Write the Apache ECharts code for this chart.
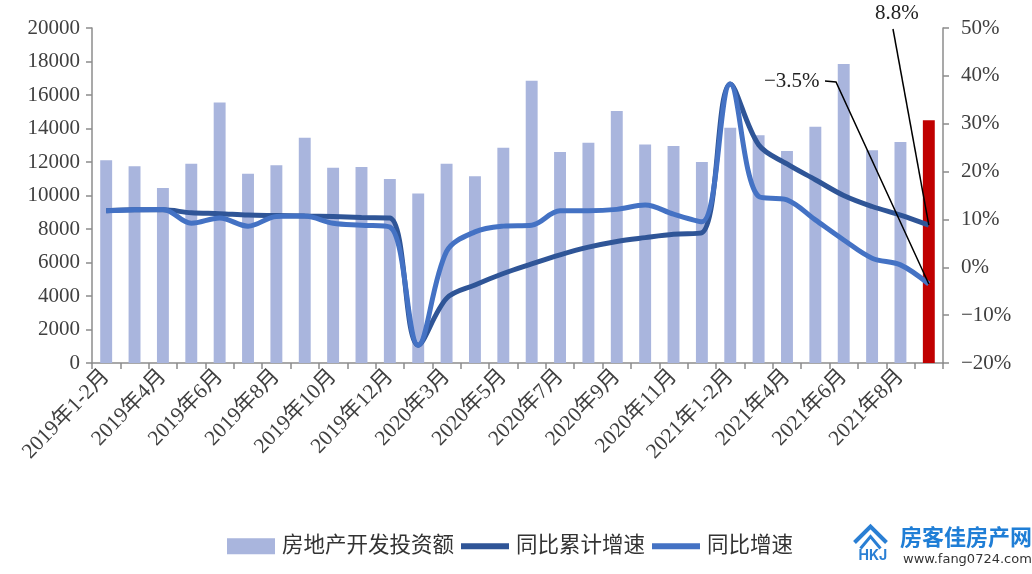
<!DOCTYPE html>
<html>
<head>
<meta charset="utf-8">
<script src="https://cdn.jsdelivr.net/npm/echarts@6/dist/echarts.min.js"></script>
<style>
html,body{margin:0;padding:0;background:#fff;}
#main{width:1032px;height:574px;}
</style>
</head>
<body>
<div id="main"></div>
<script>
var categories = [
  "2019年1-2月","2019年3月","2019年4月","2019年5月","2019年6月","2019年7月","2019年8月","2019年9月","2019年10月","2019年11月","2019年12月",
  "2020年1-2月","2020年3月","2020年4月","2020年5月","2020年6月","2020年7月","2020年8月","2020年9月","2020年10月","2020年11月","2020年12月",
  "2021年1-2月","2021年3月","2021年4月","2021年5月","2021年6月","2021年7月","2021年8月","2021年9月"
];
var investment = [
  12100,11750,10450,11900,15550,11300,11800,13450,11650,11700,10990,
  10115,11900,11150,12850,16850,12600,13150,15050,13050,12950,12000,
  14050,13600,12650,14100,17850,12700,13200,14500
];
var cumulativeGrowth = [
  11.8,12.0,12.0,11.4,11.2,10.9,10.8,10.7,10.6,10.4,10.3,
  -16.3,-6.5,-3.7,-1.3,0.7,2.6,4.2,5.4,6.2,6.9,7.2,
  38.3,25.6,21.6,18.3,15.0,12.7,10.9,8.8
];
var monthlyGrowth = [
  11.8,12.0,12.1,9.2,10.3,8.6,10.6,10.7,9.2,8.8,8.4,
  -16.3,3.3,7.4,8.6,8.8,11.8,11.8,12.1,13.0,11.1,9.5,
  38.3,14.8,14.1,9.9,5.7,1.9,0.5,-3.5
];
var leftTicks = {min:0, max:20000, interval:2000};
var rightTicks = {min:-20, max:50, interval:10};
var seriesNames = ["房地产开发投资额","同比累计增速","同比增速"];

var FONT = "'Liberation Serif','Noto Sans CJK SC',serif";
var axisColor = "#8c8c8c";
var textColor = "#404040";

function pct(v){ return (v < 0 ? '\u2212' + Math.abs(v) : String(v)) + '%'; }

var chart = echarts.init(document.getElementById('main'));
var barData = investment.map(function(v,i){
  return i === investment.length-1 ? {value:v, itemStyle:{color:'#c00000'}} : v;
});

chart.setOption({
  animation:false,
  grid:{left:92, right:89, top:28, bottom:211},
  legend:{
    bottom:12, left:222,
    itemWidth:48, itemHeight:16, itemGap:7,
    textStyle:{fontSize:21.5, color:'#333', fontFamily:FONT, padding:[0,0,0,2]},
    data:[
      {name:seriesNames[0], icon:'rect'},
      {name:seriesNames[1], icon:'path://M0,0 L48,0 L48,6 L0,6 Z'},
      {name:seriesNames[2], icon:'path://M0,0 L48,0 L48,6 L0,6 Z'}
    ]
  },
  xAxis:{
    type:'category', data:categories, boundaryGap:true,
    axisLine:{lineStyle:{color:axisColor, width:1.5}},
    axisTick:{show:true, length:6, alignWithLabel:false, interval:0, lineStyle:{color:axisColor, width:1.5}},
    axisLabel:{interval:1, rotate:46, fontSize:21.5, color:textColor, fontFamily:FONT, margin:10}
  },
  yAxis:[
    {type:'value', min:leftTicks.min, max:leftTicks.max, interval:leftTicks.interval,
     axisLine:{show:true, lineStyle:{color:axisColor, width:1.5}},
     axisTick:{show:true, length:6, lineStyle:{color:axisColor, width:1.5}},
     splitLine:{show:false},
     axisLabel:{fontSize:21, color:textColor, fontFamily:FONT, margin:12, formatter:function(v){return String(v);}}},
    {type:'value', min:rightTicks.min, max:rightTicks.max, interval:rightTicks.interval,
     position:'right',
     axisLine:{show:true, lineStyle:{color:axisColor, width:1.5}},
     axisTick:{show:true, length:6, lineStyle:{color:axisColor, width:1.5}},
     splitLine:{show:false},
     axisLabel:{fontSize:21, color:textColor, fontFamily:FONT, margin:18, formatter:pct}}
  ],
  series:[
    {name:seriesNames[0], type:'bar', data:barData, barWidth:'42%', itemStyle:{color:'#a9b5dd'}, z:1},
    {name:seriesNames[1], type:'line', yAxisIndex:1, data:cumulativeGrowth, smooth:0.35, symbol:'none',
     lineStyle:{width:5, color:'#2f5597'}, itemStyle:{color:'#2f5597'}, z:3},
    {name:seriesNames[2], type:'line', yAxisIndex:1, data:monthlyGrowth, smooth:0.35, symbol:'none',
     lineStyle:{width:5, color:'#4472c4'}, itemStyle:{color:'#4472c4'}, z:4}
  ]
});

var last = categories.length-1;
var p1 = chart.convertToPixel({seriesIndex:1}, [last, cumulativeGrowth[last]]);
var p2 = chart.convertToPixel({seriesIndex:2}, [last, monthlyGrowth[last]]);

chart.setOption({
  graphic:[
    {type:'text', left:875, top:3, z:10, style:{text:cumulativeGrowth[last].toFixed(1)+'%', font:"21px "+FONT, fill:'#222'}},
    {type:'polyline', z:10, shape:{points:[[893,29],[p1[0],p1[1]]]}, style:{stroke:'#000', lineWidth:1.5, fill:null}},
    {type:'text', left:764, top:71, z:10, style:{text:'\u2212'+Math.abs(monthlyGrowth[last]).toFixed(1)+'%', font:"21px "+FONT, fill:'#222'}},
    {type:'polyline', z:10, shape:{points:[[825,81],[836,82],[p2[0],p2[1]]]}, style:{stroke:'#000', lineWidth:1.5, fill:null}},
    {type:'group', left:852, top:524, children:[
      {type:'polyline', shape:{points:[[0,20],[16,4],[32,20]]}, style:{stroke:'#2a7fd4', lineWidth:4, fill:null}},
      {type:'polyline', shape:{points:[[6,26],[16,14],[26,26]]}, style:{stroke:'#2a7fd4', lineWidth:3, fill:null}},
      {type:'text', left:4, top:26, style:{text:'HKJ', font:'bold 14px Inter, sans-serif', fill:'#2a7fd4'}}
    ]},
    {type:'text', left:900, top:526, style:{text:'房客佳房产网', font:"bold 22px 'Noto Sans CJK SC', sans-serif", fill:'#1f7ed6'}},
    {type:'text', left:903, top:553, style:{text:'www.fang0724.com', font:"13px 'DejaVu Sans', sans-serif", fill:'#333'}}
  ]
});
</script>
</body>
</html>
